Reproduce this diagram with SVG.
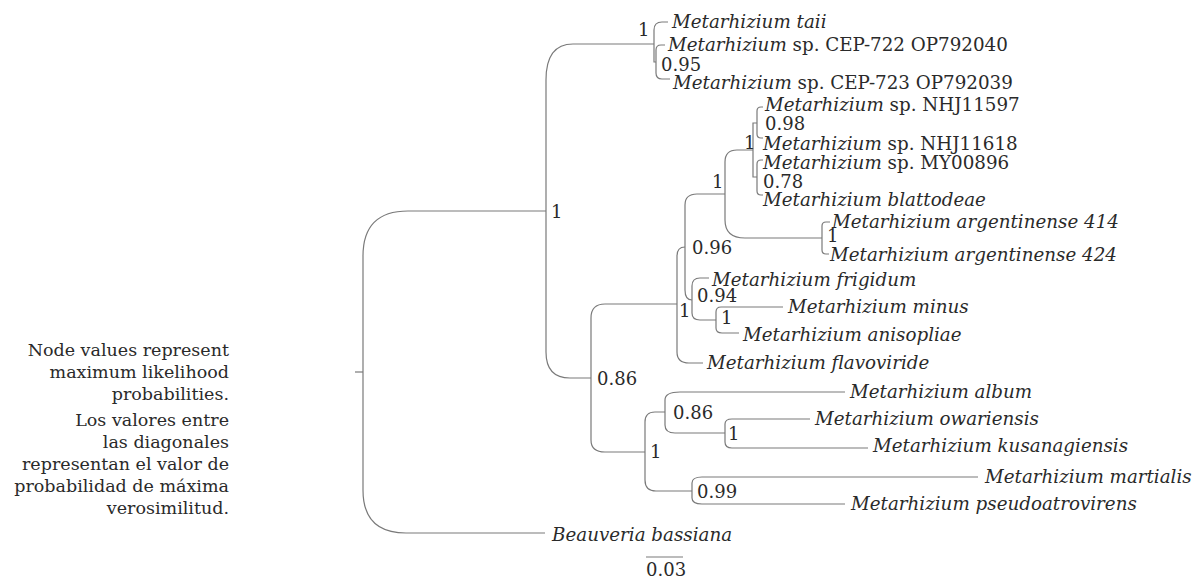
<svg xmlns="http://www.w3.org/2000/svg" width="1199" height="579" viewBox="0 0 1199 579">
<style>
text{font-family:"DejaVu Serif","Liberation Serif",serif;font-size:18.3px;fill:#2a2a2a}
.i{font-style:italic}
.lab{font-size:18px}
.note{font-size:17.5px;text-anchor:end}
.br{fill:none;stroke:#7a7a7a;stroke-width:1.2}
</style>
<rect width="1199" height="579" fill="#fff"/>
<g id="connectors" class="br">
<path d="M355,372 H363"/>
<path d="M363,372 V256 Q363,211 408,211 H546"/>
<path d="M363,372 V490 Q363,533 406,533 H545"/>
<path d="M546,211 V80 Q546,44 573,44 H654"/>
<path d="M546,211 V352 Q546,378 570,378 H591"/>
<path d="M654,44 V30 Q654,22 662,22 H668"/>
<path d="M654,44 V62 H656"/>
<path d="M656,62 V50 Q656,45 661,45 H665"/>
<path d="M656,62 V73 Q656,79 662,79 H670"/>
<path d="M591,378 V318 Q591,304 605,304 H677"/>
<path d="M591,378 V440 Q591,452 605,452 H645"/>
<path d="M677,304 V256 Q677,247 685,247"/>
<path d="M677,304 V352 Q677,363 689,363 H703"/>
<path d="M685,247 V205 Q685,194 697,194 H725"/>
<path d="M685,247 V290 Q685,300 692,300"/>
<path d="M725,194 V162 Q725,150 737,150 H753"/>
<path d="M725,194 V220 Q725,238 745,238 H822"/>
<path d="M753,150 V123 H757"/>
<path d="M753,150 V177 H757"/>
<path d="M757,123 V111 Q757,107 761,107 H763"/>
<path d="M757,123 V134 Q757,138 761,138 H763"/>
<path d="M757,177 V164 Q757,160 761,160 H763"/>
<path d="M757,177 V191 Q757,195 761,195 H763"/>
<path d="M822,238 V226 Q822,222 826,222 H830"/>
<path d="M822,238 V250 Q822,254 826,254 H829"/>
<path d="M692,300 V286 Q692,278 700,278 H709"/>
<path d="M692,300 V313 Q692,320 700,320 H716"/>
<path d="M716,320 V312 Q716,307 721,307 H783"/>
<path d="M716,320 V328 Q716,333 722,333 H739"/>
<path d="M645,452 V422 Q645,412 655,412 H665"/>
<path d="M645,452 V480 Q645,491 656,491 H692"/>
<path d="M665,412 V400 Q665,392 680,392 H845"/>
<path d="M665,412 V425 Q665,433 675,433 H725"/>
<path d="M725,433 V424 Q725,419 732,419 H810"/>
<path d="M725,433 V442 Q725,448 732,448 H868"/>
<path d="M692,491 V483 Q692,477 702,477 H978"/>
<path d="M692,491 V498 Q692,504 702,504 H845"/>
<path d="M646,557 H683"/>
</g>
<g id="tips">
<text id="t-taii" x="672" y="28"><tspan class="i">Metarhizium taii</tspan></text>
<text id="t-cep722" x="668" y="51"><tspan class="i">Metarhizium</tspan> sp. CEP-722 OP792040</text>
<text id="t-cep723" x="673" y="89"><tspan class="i">Metarhizium</tspan> sp. CEP-723 OP792039</text>
<text id="t-nhj11597" x="765" y="111"><tspan class="i">Metarhizium</tspan> sp. NHJ11597</text>
<text id="t-nhj11618" x="763" y="150"><tspan class="i">Metarhizium</tspan> sp. NHJ11618</text>
<text id="t-my00896" x="763" y="169"><tspan class="i">Metarhizium</tspan> sp. MY00896</text>
<text id="t-blatt" x="763" y="206"><tspan class="i">Metarhizium blattodeae</tspan></text>
<text id="t-arg414" x="832" y="228"><tspan class="i">Metarhizium argentinense 414</tspan></text>
<text id="t-arg424" x="830" y="261"><tspan class="i">Metarhizium argentinense 424</tspan></text>
<text id="t-frig" x="712" y="286"><tspan class="i">Metarhizium frigidum</tspan></text>
<text id="t-minus" x="788" y="313"><tspan class="i">Metarhizium minus</tspan></text>
<text id="t-aniso" x="743" y="341"><tspan class="i">Metarhizium anisopliae</tspan></text>
<text id="t-flavo" x="707" y="369"><tspan class="i">Metarhizium flavoviride</tspan></text>
<text id="t-album" x="850" y="398"><tspan class="i">Metarhizium album</tspan></text>
<text id="t-owar" x="815" y="425"><tspan class="i">Metarhizium owariensis</tspan></text>
<text id="t-kusa" x="873" y="452"><tspan class="i">Metarhizium kusanagiensis</tspan></text>
<text id="t-mart" x="985" y="483"><tspan class="i">Metarhizium martialis</tspan></text>
<text id="t-pseudo" x="851" y="510"><tspan class="i">Metarhizium pseudoatrovirens</tspan></text>
<text id="t-beau" x="552" y="541"><tspan class="i">Beauveria bassiana</tspan></text>
</g>
<g id="support">
<text class="lab" x="638" y="36">1</text>
<text class="lab" x="661" y="71">0.95</text>
<text class="lab" x="765" y="130">0.98</text>
<text class="lab" x="744" y="149">1</text>
<text class="lab" x="763" y="188">0.78</text>
<text class="lab" x="712" y="188">1</text>
<text class="lab" x="827" y="242">1</text>
<text class="lab" x="692" y="254">0.96</text>
<text class="lab" x="697" y="302">0.94</text>
<text class="lab" x="679" y="317">1</text>
<text class="lab" x="721" y="324">1</text>
<text class="lab" x="551" y="218">1</text>
<text class="lab" x="597" y="385">0.86</text>
<text class="lab" x="673" y="419">0.86</text>
<text class="lab" x="728" y="440">1</text>
<text class="lab" x="650" y="458">1</text>
<text class="lab" x="697" y="498">0.99</text>
</g>
<g id="scale">
<text class="lab" x="646" y="576">0.03</text>
</g>
<g id="note">
<text class="note" x="229" y="356">Node values represent</text>
<text class="note" x="229" y="378">maximum likelihood</text>
<text class="note" x="229" y="400">probabilities.</text>
<text class="note" x="229" y="426">Los valores entre</text>
<text class="note" x="229" y="448">las diagonales</text>
<text class="note" x="229" y="470">representan el valor de</text>
<text class="note" x="229" y="492">probabilidad de máxima</text>
<text class="note" x="229" y="514">verosimilitud.</text>
</g>
</svg>
